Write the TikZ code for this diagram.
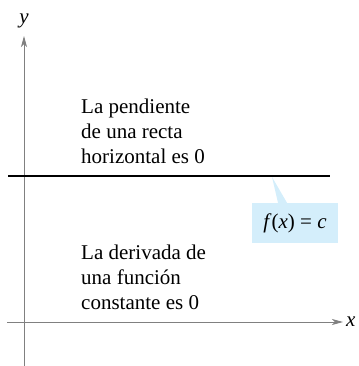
\documentclass[tikz,border=0pt]{standalone}
\usepackage{fontspec}
\setmainfont{Liberation Serif}
\usetikzlibrary{positioning, arrows.meta}
\definecolor{calloutblue}{RGB}{212,238,251}
\definecolor{axisgray}{RGB}{128,128,128}

\begin{document}
\begin{tikzpicture}[x=1pt, y=-1pt,
            axis/.style={draw=axisgray, line width=0.9pt, -{Stealth[length=11pt, width=6pt, inset=3pt]}},
            note/.style={align=left, inner sep=0pt, font=\fontsize{21}{25}\selectfont},
            callout/.style={fill=calloutblue, minimum width=86pt, minimum height=40pt, inner sep=0pt, font=\fontsize{21}{25}\selectfont},
            const line/.style={line width=2.2pt}
        ]
            \useasboundingbox (0,0) rectangle (358,366);

            \coordinate (xstart) at (7,322);
            \coordinate (xend) at (343,322);
            \coordinate (ystart) at (24,366);
            \coordinate (yend) at (24,36);
            \draw [axis] (xstart) -- (xend);
            \draw [axis] (ystart) -- (yend);
            \node [note, anchor=west] (xlab) at (346,322) {\textit{x}};
            \node [note] (ylab) at (24,21) {\textit{y}};

            \coordinate (cleft) at (8,176);
            \coordinate (cright) at (330,176);
            \draw [const line] (cleft) -- (cright);

            \node [note, anchor=north west] (slope) at (81,99) {La pendiente\\de una recta\\horizontal es 0};
            \node [note, below=81pt of slope.south west, anchor=north west] (deriv) {La derivada de\\una función\\constante es 0};

            \node [callout] (fx) at (295,223) {\textit{f}(\textit{x}) = \textit{c}};
            \coordinate (tip) at (272,177);
            \fill [calloutblue] ([xshift=-17pt]fx.north) -- (tip) -- ([xshift=-8pt]fx.north) -- cycle;

        \end{tikzpicture}
\end{document}
